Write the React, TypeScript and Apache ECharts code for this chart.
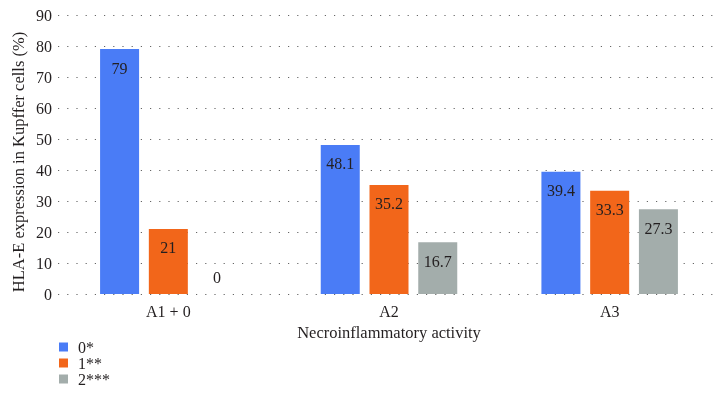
import React, { useEffect, useRef } from "react";
import * as echarts from "echarts";

const categories = ["A1 + 0", "A2", "A3"];
const seriesNames = ["0*", "1**", "2***"];
const values0 = [79, 48.1, 39.4];
const values1 = [21, 35.2, 33.3];
const values2 = [0, 16.7, 27.3];
const colors = ["#4a7cf6", "#f2661a", "#a3adab"];
const yTitle = "HLA-E expression in Kupffer cells (%)";
const xTitle = "Necroinflammatory activity";

const FONT = "'Liberation Serif', 'Times New Roman', serif";
const TXT = "#231f20";
const FS = 16;

export default function App() {
  const ref = useRef<HTMLDivElement>(null);
  useEffect(() => {
    if (!ref.current) return;
    const chart = echarts.init(ref.current, undefined, { renderer: "svg" });
    const all = [values0, values1, values2];
    const series = all.map((vals, i) => ({
      name: seriesNames[i],
      type: "bar",
      barWidth: 39,
      barGap: "25%",
      itemStyle: { color: colors[i] },
      data: vals.map((v) => ({
        value: v,
        label:
          v === 0
            ? { position: "top", distance: 9 }
            : { position: "insideTop", distance: 11 },
      })),
      label: {
        show: true,
        color: TXT,
        fontFamily: FONT,
        fontSize: FS,
      },
    }));
    chart.setOption({
      animation: false,
      textStyle: { fontFamily: FONT, color: TXT, fontSize: FS },
      grid: {
        left: 58,
        right: 5,
        top: 15,
        bottom: 121,
        containLabel: false,
        outerBoundsMode: "none",
      },
      graphic: [
        {
          type: "text",
          x: 18,
          y: 162,
          rotation: Math.PI / 2,
          style: {
            text: yTitle,
            fontFamily: FONT,
            fontSize: 16.5,
            fill: TXT,
            align: "center",
            verticalAlign: "middle",
          },
        },
      ],
      legend: {
        orient: "vertical",
        left: 59,
        top: 339,
        padding: 0,
        itemWidth: 9,
        itemHeight: 9,
        itemGap: 0,
        icon: "rect",
        textStyle: {
          fontFamily: FONT,
          fontSize: FS,
          color: TXT,
          padding: [0, 0, 0, 5],
        },
        data: seriesNames,
      },
      xAxis: {
        type: "category",
        data: categories,
        name: xTitle,
        nameLocation: "middle",
        nameGap: 20,
        nameTextStyle: { fontFamily: FONT, fontSize: 16.5, color: TXT },
        axisLine: { show: false },
        axisTick: { show: false },
        axisLabel: { fontFamily: FONT, fontSize: FS, color: TXT, margin: 9 },
      },
      yAxis: {
        type: "value",
        min: 0,
        max: 90,
        interval: 10,
        axisLine: { show: false },
        axisTick: { show: false },
        axisLabel: { fontFamily: FONT, fontSize: FS, color: TXT, margin: 6 },
        splitLine: {
          show: true,
          lineStyle: { type: [1.2, 8], color: "#666", width: 1 },
        },
      },
      series,
    });
    return () => chart.dispose();
  }, []);
  return (
    <div
      ref={ref}
      style={{ position: "fixed", left: 0, top: 0, width: 725, height: 415 }}
    />
  );
}
